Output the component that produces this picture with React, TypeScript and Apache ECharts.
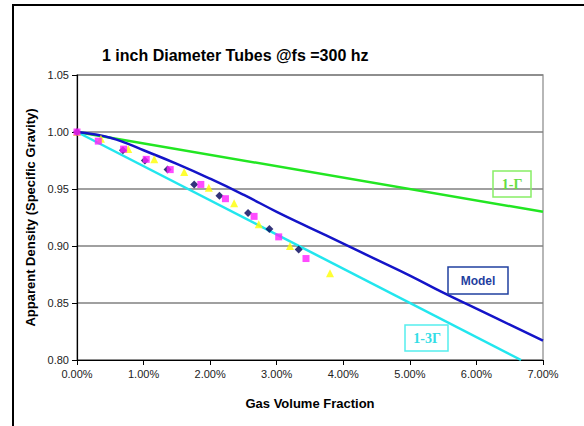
import React, { useEffect, useRef } from "react";
import * as echarts from "echarts";

// x in fraction of gas volume, y in specific gravity
const modelX = [0, 0.0025, 0.005, 0.0075, 0.01, 0.015, 0.02, 0.025, 0.03, 0.035, 0.04, 0.045, 0.05, 0.055, 0.06, 0.065, 0.07];
const modelY = [1.0, 0.998, 0.995, 0.99, 0.984, 0.972, 0.959, 0.945, 0.93, 0.916, 0.902, 0.888, 0.874, 0.859, 0.845, 0.831, 0.817];

const oneMinusGX = [0, 0.07];
const oneMinusGY = [1.0, 0.93];

const oneMinus3GX = [0, 0.0667];
const oneMinus3GY = [1.0, 0.8];

const navyX = [0, 0.0069, 0.0102, 0.0136, 0.0176, 0.0214, 0.0257, 0.0289, 0.0333];
const navyY = [1.0, 0.984, 0.975, 0.967, 0.954, 0.944, 0.929, 0.915, 0.897];

const magentaX = [0, 0.0032, 0.007, 0.0104, 0.014, 0.0186, 0.0223, 0.0266, 0.0303, 0.0344];
const magentaY = [1.0, 0.992, 0.985, 0.976, 0.967, 0.954, 0.9415, 0.926, 0.908, 0.889];

const yellowX = [0, 0.0036, 0.0077, 0.0116, 0.0161, 0.0198, 0.0236, 0.0273, 0.032, 0.038];
const yellowY = [1.0, 0.994, 0.985, 0.976, 0.965, 0.951, 0.9375, 0.919, 0.9, 0.876];

const xTicks = { min: 0, max: 0.07, interval: 0.01 };
const yTicks = { min: 0.8, max: 1.05, interval: 0.05 };

const zip = (xs: number[], ys: number[]) => xs.map((x, i) => [x, ys[i]]);

const FONT = "Liberation Sans, Arial, sans-serif";
const SERIF = "Liberation Serif, Times New Roman, serif";

export default function App() {
  const ref = useRef<HTMLDivElement>(null);
  useEffect(() => {
    if (!ref.current) return;
    const chart = echarts.init(ref.current, null, { renderer: "svg" });
    chart.setOption({
      animation: false,
      backgroundColor: "#ffffff",
      title: {
        text: "1 inch Diameter Tubes @fs =300 hz",
        left: 97,
        top: 42,
        textStyle: { fontFamily: FONT, fontSize: 16, fontWeight: "bold", color: "#000" },
      },
      grid: {
        left: 77,
        right: 41,
        top: 75,
        bottom: 66,
        show: true,
        borderColor: "#a0a0a0",
        borderWidth: 1.5,
      },
      xAxis: {
        type: "value",
        min: xTicks.min,
        max: xTicks.max,
        interval: xTicks.interval,
        name: "Gas Volume Fraction",
        nameLocation: "middle",
        nameGap: 37,
        nameTextStyle: { fontFamily: FONT, fontSize: 13, fontWeight: "bold", color: "#000" },
        axisLine: { show: true, onZero: false, lineStyle: { color: "#000", width: 1.2 } },
        axisTick: { show: true, length: 5, lineStyle: { color: "#000" } },
        axisLabel: {
          fontFamily: FONT,
          fontSize: 11,
          color: "#222",
          margin: 8,
          formatter: (v: number) => (v * 100).toFixed(2) + "%",
        },
        splitLine: { show: false },
      },
      yAxis: {
        type: "value",
        min: yTicks.min,
        max: yTicks.max,
        interval: yTicks.interval,
        name: "Apparent Density (Specific Gravity)",
        nameLocation: "middle",
        nameGap: 38,
        nameTextStyle: { fontFamily: FONT, fontSize: 13, fontWeight: "bold", color: "#000" },
        axisLine: { show: true, onZero: false, lineStyle: { color: "#000", width: 1.2 } },
        axisTick: { show: true, length: 5, lineStyle: { color: "#000" } },
        axisLabel: {
          fontFamily: FONT,
          fontSize: 11,
          color: "#222",
          margin: 8,
          formatter: (v: number) => v.toFixed(2),
        },
        splitLine: { show: true, lineStyle: { color: "#808080", width: 1.5 } },
      },
      series: [
        {
          type: "line",
          data: zip(oneMinusGX, oneMinusGY),
          showSymbol: false,
          lineStyle: { color: "#22e622", width: 2.5 },
          z: 2,
        },
        {
          type: "line",
          data: zip(oneMinus3GX, oneMinus3GY),
          showSymbol: false,
          lineStyle: { color: "#22e6ee", width: 2.5 },
          z: 2,
        },
        {
          type: "line",
          data: zip(modelX, modelY),
          showSymbol: false,
          smooth: true,
          lineStyle: { color: "#1414c8", width: 2.5 },
          z: 2,
        },
        {
          type: "scatter",
          data: zip(yellowX, yellowY),
          symbol: "triangle",
          symbolSize: 8,
          itemStyle: { color: "#ffff00" },
          z: 3,
        },
        {
          type: "scatter",
          data: zip(navyX, navyY),
          symbol: "diamond",
          symbolSize: 8,
          itemStyle: { color: "#00005a" },
          z: 3,
        },
        {
          type: "scatter",
          data: zip(magentaX, magentaY),
          symbol: "rect",
          symbolSize: 7,
          itemStyle: { color: "#ff1eff" },
          z: 4,
        },
      ],
      graphic: [
        {
          type: "rect",
          shape: { x: 13, y: 5, width: 600, height: 440 },
          style: { fill: "none", stroke: "#000", lineWidth: 2 },
          silent: true,
        },
        {
          type: "rect",
          shape: { x: 493, y: 171, width: 38, height: 26 },
          style: { fill: "none", stroke: "#88ee66", lineWidth: 1.5 },
          z: 10,
        },
        {
          type: "text",
          x: 512,
          y: 184,
          style: {
            text: "1-Γ",
            fill: "#66dd44",
            font: "bold 14px " + SERIF,
            align: "center",
            verticalAlign: "middle",
          },
          z: 11,
        },
        {
          type: "rect",
          shape: { x: 448, y: 267, width: 60, height: 27 },
          style: { fill: "#fff", stroke: "#2040a0", lineWidth: 1.5 },
          z: 10,
        },
        {
          type: "text",
          x: 478,
          y: 281,
          style: {
            text: "Model",
            fill: "#1f3f9f",
            font: "bold 12px " + FONT,
            align: "center",
            verticalAlign: "middle",
          },
          z: 11,
        },
        {
          type: "rect",
          shape: { x: 405, y: 325, width: 43, height: 26 },
          style: { fill: "#fff", stroke: "#55eeee", lineWidth: 1.5 },
          z: 10,
        },
        {
          type: "text",
          x: 427,
          y: 338,
          style: {
            text: "1-3Γ",
            fill: "#33dde6",
            font: "bold 14px " + SERIF,
            align: "center",
            verticalAlign: "middle",
          },
          z: 11,
        },
      ],
    });
    return () => chart.dispose();
  }, []);
  return (
    <div
      ref={ref}
      style={{ position: "fixed", left: 0, top: 0, width: 584, height: 426 }}
    />
  );
}
